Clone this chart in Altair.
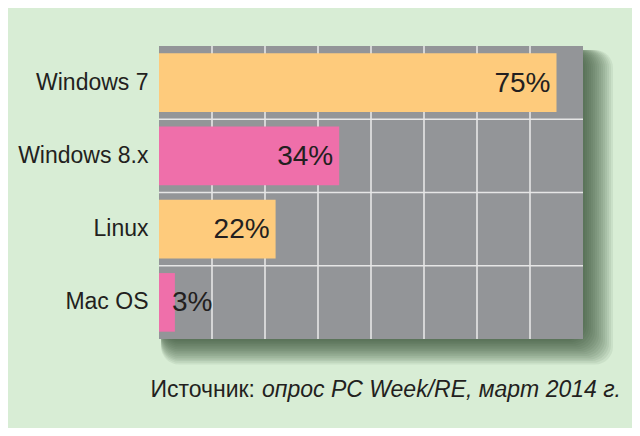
import altair as alt
import pandas as pd

categories = ["Windows 7", "Windows 8.x", "Linux", "Mac OS"]
values = [75, 34, 22, 3]
labels = ["75%", "34%", "22%", "3%"]
bar_colors = ["#fecb7c", "#ef6faa", "#fecb7c", "#ef6faa"]
grid_values = [10, 20, 30, 40, 50, 60, 70]
source_prefix = "Источник:"
source_rest = "опрос PC Week/RE, март 2014 г."

FONT = "Liberation Sans Narrow, Arial Narrow, Liberation Sans, Arial, sans-serif"
W, H = 424, 293
BG = "#d8edd5"
TXT = "#231f20"

df = pd.DataFrame({"os": categories, "value": values, "label": labels, "color": bar_colors})
df_grid = pd.DataFrame({"g": grid_values})
df_hgrid = pd.DataFrame({"os": categories[1:]})
one = alt.Data(values=[{"k": 1}])

yscale = alt.Scale(domain=categories, paddingInner=0, paddingOuter=0)
xscale = alt.Scale(domain=[0, 80], nice=False, zero=True)
yaxis = alt.Axis(labelFont=FONT, labelFontSize=23, labelColor=TXT, labelPadding=11,
                 ticks=False, domain=False, grid=False, labelLimit=300, title=None)

# soft drop shadow (decoration)
shadow_layers = []
for s in range(2, 32, 2):
    shadow_layers.append(
        alt.Chart(one).mark_rect(color="#2b3d2e", opacity=0.075, cornerRadius=18, clip=False).encode(
            x=alt.value(2), x2=alt.value(W + s), y=alt.value(4), y2=alt.value(H + s * 0.85)
        )
    )

plot_bg = alt.Chart(one).mark_rect(color="#939598", clip=False).encode(
    x=alt.value(0), x2=alt.value(W), y=alt.value(0), y2=alt.value(H)
)

vgrid = alt.Chart(df_grid).mark_rule(color="#e6e6e6", strokeWidth=1.6).encode(
    x=alt.X("g:Q", scale=xscale, axis=None)
)

hgrid = alt.Chart(df_hgrid).mark_rule(color="#e6e6e6", strokeWidth=1.6).encode(
    y=alt.Y("os:N", scale=yscale, bandPosition=0, axis=yaxis)
)

bars = alt.Chart(df).mark_bar(height=alt.RelativeBandSize(0.8)).encode(
    y=alt.Y("os:N", scale=yscale, sort=categories, axis=yaxis),
    x=alt.X("value:Q", scale=xscale, axis=None),
    color=alt.Color("color:N", scale=None),
)

text_in = alt.Chart(df).transform_filter("datum.value >= 10").mark_text(
    align="right", baseline="middle", dx=-6, dy=1, font=FONT, fontSize=28, color=TXT
).encode(y=alt.Y("os:N", scale=yscale, axis=yaxis), x=alt.X("value:Q", scale=xscale, axis=None), text="label:N")

text_out = alt.Chart(df).transform_filter("datum.value < 10").mark_text(
    align="left", baseline="middle", dx=-3, dy=1, font=FONT, fontSize=28, color=TXT
).encode(y=alt.Y("os:N", scale=yscale, axis=yaxis), x=alt.X("value:Q", scale=xscale, axis=None), text="label:N")

src1 = alt.Chart(one).mark_text(align="right", baseline="alphabetic", font=FONT, fontSize=23,
                                 color=TXT, clip=False).encode(
    x=alt.value(96), y=alt.value(351), text=alt.value(source_prefix))
src2 = alt.Chart(one).mark_text(align="left", baseline="alphabetic", font=FONT, fontSize=23,
                                 fontStyle="italic", color=TXT, clip=False).encode(
    x=alt.value(103), y=alt.value(351), text=alt.value(source_rest))

chart = alt.layer(*shadow_layers, plot_bg, vgrid, hgrid, bars, text_in, text_out, src1, src2).properties(
    width=W, height=H,
    background=BG,
    autosize=alt.AutoSizeParams(type="none"),
    padding={"left": 151, "top": 38, "right": 49, "bottom": 89},
).configure_view(stroke=None, fill=None)

chart.save("out.html", embed_options={"renderer": "svg", "actions": False})
